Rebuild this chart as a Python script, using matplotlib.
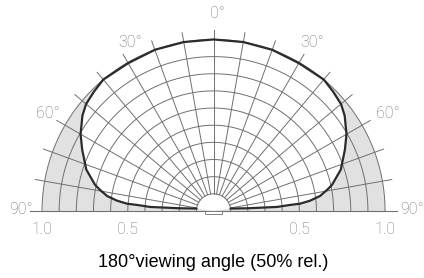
import numpy as np
import matplotlib.pyplot as plt

# half of the radiation pattern (mirrored for the other side)
angle_deg = [0, 10, 20, 30, 40, 45, 50, 54, 60, 65, 72, 77.6, 79.5, 82, 83.9, 85.2, 85.5, 86.4, 85.5, 82]
rel_int = [1.0, 1.0, 1.0, 0.995, 1.0, 0.985, 0.97, 0.945, 0.895, 0.845, 0.78, 0.707, 0.673, 0.627,
           0.567, 0.507, 0.449, 0.37, 0.2, 0.1]

grid_radii = [0.1, 0.2, 0.3, 0.4, 0.5, 0.6, 0.7, 0.8, 0.9, 1.0]
spoke_deg = list(range(-90, 91, 10))

angle_labels = ["0°", "30°", "30°", "60°", "60°", "90°", "90°"]
angle_label_xy = [(0.023, 1.149), (-0.484, 0.985), (0.574, 0.98), (-0.968, 0.566),
                  (1.015, 0.571), (-1.125, 0.006), (1.155, 0.006)]
scale_labels = ["1.0", "0.5", "0.5", "1.0"]
scale_label_x = [-1.0, -0.5, 0.5, 1.0]

GRID = "#707070"
TXT = "#747474"

fig = plt.figure(figsize=(4.24, 2.78), dpi=100)
ax = fig.add_axes([0, 0, 1, 1])
ax.set_xlim(-1.245, 1.227)
ax.set_ylim(-0.391, 1.230)
ax.axis("off")

# curve from left end, over the top, to right end
th = np.radians(np.concatenate([-np.array(angle_deg[::-1]), np.array(angle_deg[1:])]))
rr = np.concatenate([np.array(rel_int[::-1]), np.array(rel_int[1:])])
cx = rr * np.sin(th)
cy = rr * np.cos(th)

# grey area outside the curve, inside the unit half circle
t = np.radians(np.linspace(-90, 90, 300))
ax.fill(np.sin(t), np.cos(t), color="#e1e1e1", lw=0, zorder=1)
ax.fill(np.r_[0, cx, 0], np.r_[0, cy, 0], color="white", lw=0, zorder=2)

# grid
for r in grid_radii:
    ax.plot(r * np.sin(t), r * np.cos(t), color=GRID, lw=0.7, zorder=3)
for d in spoke_deg:
    a = np.radians(d)
    ax.plot([0.1 * np.sin(a), 1.055 * np.sin(a)], [0.1 * np.cos(a), 1.055 * np.cos(a)],
            color=GRID, lw=0.7, zorder=3)
ax.plot([-1.07, 1.07], [0, 0], color=GRID, lw=0.8, zorder=3)
ax.add_patch(plt.Rectangle((-0.05, -0.016), 0.1, 0.016, fc="white", ec=GRID, lw=0.6, zorder=3))

ax.plot(cx, cy, color="#2b2b2b", lw=1.6, zorder=4, solid_capstyle="round")

for s, (x, y) in zip(angle_labels, angle_label_xy):
    ax.text(x, y, s, ha="center", va="center", fontsize=11.5, color=TXT,
            family="Roboto", fontweight="light")
for s, x in zip(scale_labels, scale_label_x):
    ax.text(x, -0.11, s, ha="center", va="center", fontsize=11.5, color=TXT,
            family="Roboto", fontweight="light")

ax.text(0.0, -0.303, "180°viewing angle (50% rel.)", ha="center", va="center",
        fontsize=13, color="black", family="Liberation Sans")

fig.savefig("out.png", dpi=100)
